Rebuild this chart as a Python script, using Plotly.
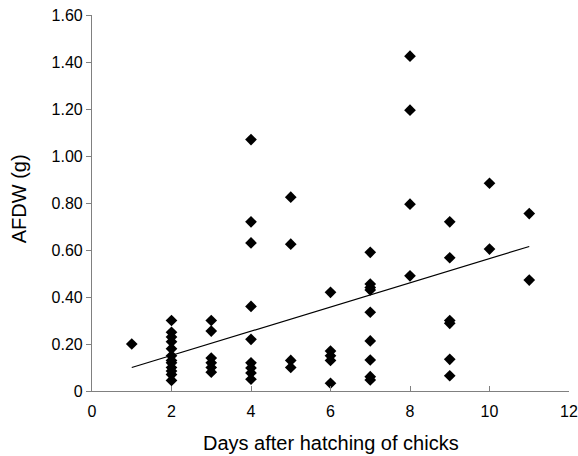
import numpy as np
import plotly.graph_objects as go

days = [1,
        2, 2, 2, 2, 2, 2, 2, 2, 2, 2, 2, 2,
        3, 3, 3, 3, 3, 3,
        4, 4, 4, 4, 4, 4, 4, 4, 4,
        5, 5, 5, 5,
        6, 6, 6, 6, 6,
        7, 7, 7, 7, 7, 7, 7, 7, 7,
        8, 8, 8, 8,
        9, 9, 9, 9, 9, 9,
        10, 10,
        11, 11]
afdw = [0.20,
        0.30, 0.25, 0.23, 0.21, 0.18, 0.15, 0.13, 0.12, 0.10, 0.085, 0.07, 0.045,
        0.30, 0.255, 0.14, 0.12, 0.10, 0.08,
        1.07, 0.72, 0.63, 0.36, 0.22, 0.12, 0.098, 0.077, 0.05,
        0.825, 0.625, 0.13, 0.10,
        0.42, 0.17, 0.15, 0.13, 0.033,
        0.59, 0.455, 0.44, 0.43, 0.335, 0.213, 0.132, 0.061, 0.047,
        1.425, 1.195, 0.795, 0.49,
        0.72, 0.567, 0.30, 0.288, 0.135, 0.065,
        0.884, 0.604,
        0.755, 0.472]

trend_x = [1, 11]
trend_y = [0.10, 0.615]

y_ticks = [0, 0.2, 0.4, 0.6, 0.8, 1.0, 1.2, 1.4, 1.6]
y_tick_text = ["0", "0.20", "0.40", "0.60", "0.80", "1.00", "1.20", "1.40", "1.60"]
x_ticks = [0, 2, 4, 6, 8, 10, 12]

fig = go.Figure()
fig.add_trace(go.Scatter(x=trend_x, y=trend_y, mode="lines",
                         line=dict(color="black", width=1.2), showlegend=False))
fig.add_trace(go.Scatter(x=days, y=afdw, mode="markers",
                         marker=dict(symbol="diamond", size=9, color="black"),
                         showlegend=False, cliponaxis=False))

font = "Liberation Sans, Arial, sans-serif"
fig.update_layout(
    width=578, height=456,
    margin=dict(l=92, r=9, t=15, b=65),
    paper_bgcolor="white", plot_bgcolor="white",
    font=dict(family=font, size=16, color="black"),
    annotations=[
        dict(text="Days after hatching of chicks", xref="paper", yref="paper",
             x=0.5, y=-0.138, xanchor="center", yanchor="middle",
             showarrow=False, font=dict(size=20)),
        dict(text="AFDW (g)", xref="paper", yref="paper",
             x=-0.153, y=0.51, xanchor="center", yanchor="middle", textangle=-90,
             showarrow=False, font=dict(size=20)),
    ],
)
fig.update_xaxes(range=[0, 12], tickvals=x_ticks, showgrid=False, zeroline=False,
                 showline=True, linecolor="#808080", linewidth=1.2,
                 ticks="inside", ticklen=5, tickcolor="#808080", tickwidth=1,
                 ticklabelstandoff=6, automargin=False)
fig.update_yaxes(range=[0, 1.6], tickvals=y_ticks, ticktext=y_tick_text,
                 showgrid=False, zeroline=False,
                 showline=True, linecolor="#808080", linewidth=1.2,
                 ticks="outside", ticklen=5, tickcolor="#808080", tickwidth=1,
                 automargin=False)

fig.write_html("out.html", config={"displayModeBar": False},
               post_script="document.body.style.margin='0';")
